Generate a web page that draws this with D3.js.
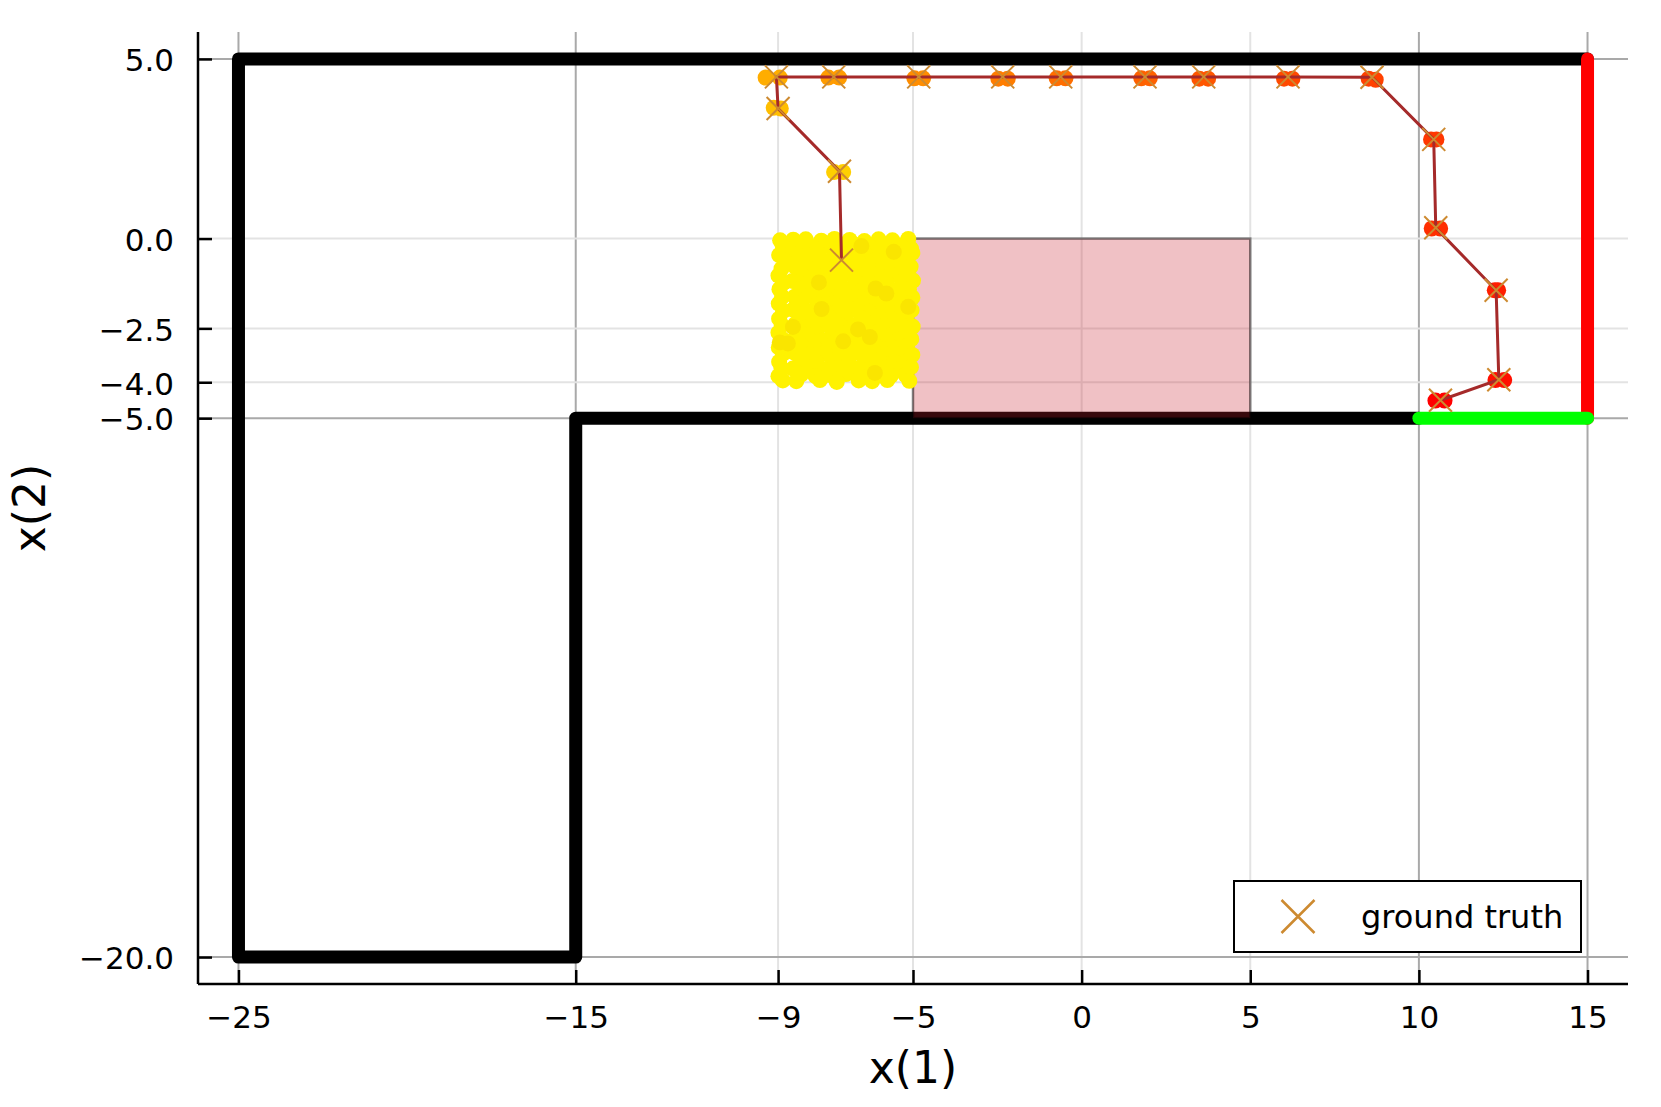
<!DOCTYPE html>
<html>
<head>
<meta charset="utf-8">
<script src="https://cdn.jsdelivr.net/npm/d3@7"></script>
<style>
  body { margin: 0; background: #fff; }
  svg { display: block; }
  text { font-family: "DejaVu Sans", sans-serif; }
</style>
</head>
<body>
<svg id="chart" width="1661" height="1107"></svg>
<script>
// ---------------- DATA ----------------
const xTicks = [-25, -15, -9, -5, 0, 5, 10, 15];
const yTicks = [5, 0, -2.5, -4, -5, -20];
const darkGridX = [-25, -15, 10, 15];
const darkGridY = [5, -5, -20];

const wallPts  = [[15, 5], [-25, 5], [-25, -20], [-15, -20], [-15, -5], [10, -5]];
const redWall  = [[15, 5], [15, -5]];
const goalWall = [[10, -5], [15, -5]];
const obstacleX = [-5, 5];
const obstacleY = [-5, 0];

// ground truth trajectory, t = 0 .. 16
const truthX = [-7.12, -7.18, -9.0, -9.05, -7.35, -4.83, -2.34, -0.62, 1.88, 3.62, 6.12, 8.61, 10.44, 10.50, 12.29, 12.37, 10.64];
const truthY = [-0.60, 1.875, 3.62, 4.50, 4.50, 4.50, 4.50, 4.50, 4.50, 4.50, 4.50, 4.49, 2.76, 0.30, -1.44, -3.93, -4.50];

// estimated particles per step [t, x, y]
const estimates = [
  [1, -7.34, 1.85], [1, -7.07, 1.85],
  [2, -9.13, 3.64], [2, -8.92, 3.62],
  [3, -9.37, 4.48], [3, -8.95, 4.48],
  [4, -7.51, 4.48], [4, -7.19, 4.48],
  [5, -4.96, 4.46], [5, -4.70, 4.46],
  [6, -2.47, 4.45], [6, -2.19, 4.45],
  [7, -0.74, 4.46], [7, -0.48, 4.46],
  [8, 1.77, 4.46], [8, 2.02, 4.46],
  [9, 3.49, 4.45], [9, 3.75, 4.45],
  [10, 6.00, 4.45], [10, 6.25, 4.45],
  [11, 8.51, 4.45], [11, 8.72, 4.42],
  [12, 10.36, 2.76], [12, 10.52, 2.76],
  [13, 10.38, 0.28], [13, 10.63, 0.28],
  [14, 12.25, -1.44], [14, 12.35, -1.44],
  [15, 12.27, -3.94], [15, 12.53, -3.94],
  [16, 10.49, -4.51], [16, 10.76, -4.51]
];

// initial particle cloud (t = 0)
const cloudPts = [
  [-8.94,-0.05],[-8.55,-0.03],[-8.18,-0.02],[-7.72,-0.06],[-7.33,-0.01],[-6.88,-0.04],[-6.44,-0.07],[-6.02,-0.02],[-5.61,-0.05],[-5.14,-0.01],
  [-8.86,-0.22],[-8.38,-0.19],[-7.96,-0.24],[-7.54,-0.20],[-7.10,-0.23],[-6.69,-0.18],[-6.24,-0.25],[-5.83,-0.21],[-5.36,-0.19],[-5.06,-0.28],
  [-8.97,-0.46],[-8.61,-0.40],[-8.14,-0.45],[-7.79,-0.41],[-7.28,-0.44],[-6.86,-0.39],[-6.41,-0.46],[-5.94,-0.42],[-5.49,-0.44],[-5.02,-0.40],
  [-8.78,-0.62],[-8.36,-0.58],[-7.91,-0.63],[-7.44,-0.60],[-6.97,-0.57],[-6.61,-0.64],[-6.11,-0.60],[-5.71,-0.62],[-5.21,-0.59],
  [-8.90,-0.84],[-8.49,-0.79],[-8.09,-0.84],[-7.66,-0.78],[-7.21,-0.82],[-6.74,-0.80],[-6.31,-0.83],[-5.86,-0.79],[-5.41,-0.82],[-5.07,-0.78],
  [-8.99,-1.03],[-8.31,-0.98],[-7.86,-1.03],[-7.41,-1.00],[-6.94,-0.97],[-6.52,-1.04],[-6.04,-0.99],[-5.62,-1.02],[-5.18,-1.00],
  [-8.84,-1.23],[-8.58,-1.18],[-8.11,-1.23],[-7.62,-1.19],[-7.16,-1.22],[-6.71,-1.17],[-6.26,-1.24],[-5.79,-1.20],[-5.31,-1.22],[-5.00,-1.17],
  [-8.96,-1.41],[-8.34,-1.38],[-7.92,-1.43],[-7.46,-1.39],[-6.91,-1.42],[-6.46,-1.40],[-6.01,-1.37],[-5.52,-1.43],[-5.12,-1.41],
  [-8.88,-1.62],[-8.51,-1.62],[-8.06,-1.58],[-7.61,-1.63],[-7.19,-1.59],[-6.72,-1.61],[-6.29,-1.64],[-5.84,-1.58],[-5.36,-1.62],[-5.02,-1.64],
  [-8.98,-1.81],[-8.29,-1.78],[-7.84,-1.83],[-7.36,-1.80],[-6.96,-1.77],[-6.49,-1.84],[-6.06,-1.79],[-5.59,-1.82],[-5.16,-1.80],
  [-8.85,-2.02],[-8.56,-1.98],[-8.12,-2.03],[-7.64,-1.99],[-7.21,-2.02],[-6.76,-1.97],[-6.31,-2.04],[-5.81,-2.00],[-5.39,-2.02],[-5.04,-1.99],
  [-8.97,-2.23],[-8.31,-2.18],[-7.89,-2.23],[-7.46,-2.20],[-7.01,-2.17],[-6.54,-2.22],[-6.09,-2.19],[-5.66,-2.23],[-5.20,-2.20],
  [-8.89,-2.41],[-8.49,-2.38],[-8.04,-2.42],[-7.59,-2.39],[-7.14,-2.43],[-6.69,-2.40],[-6.26,-2.37],[-5.86,-2.42],[-5.34,-2.40],[-5.01,-2.45],
  [-8.99,-2.62],[-8.36,-2.58],[-7.86,-2.63],[-7.39,-2.60],[-6.89,-2.57],[-6.46,-2.62],[-6.01,-2.59],[-5.54,-2.63],[-5.14,-2.60],
  [-8.87,-2.80],[-8.54,-2.82],[-8.11,-2.78],[-7.64,-2.83],[-7.19,-2.79],[-6.76,-2.81],[-6.29,-2.84],[-5.81,-2.78],[-5.41,-2.82],[-5.05,-2.80],
  [-8.98,-3.03],[-8.29,-2.98],[-7.91,-3.03],[-7.44,-3.00],[-7.01,-2.97],[-6.56,-3.04],[-6.09,-2.99],[-5.64,-3.02],[-5.18,-3.00],
  [-8.86,-3.21],[-8.51,-3.18],[-8.04,-3.23],[-7.61,-3.19],[-7.14,-3.22],[-6.71,-3.17],[-6.24,-3.24],[-5.86,-3.20],[-5.34,-3.22],[-5.02,-3.24],
  [-8.97,-3.43],[-8.34,-3.38],[-7.86,-3.43],[-7.39,-3.39],[-6.91,-3.42],[-6.44,-3.40],[-6.01,-3.37],[-5.56,-3.43],[-5.14,-3.41],
  [-8.90,-3.62],[-8.56,-3.62],[-8.09,-3.58],[-7.66,-3.63],[-7.21,-3.59],[-6.74,-3.61],[-6.31,-3.64],[-5.79,-3.58],[-5.39,-3.62],[-5.06,-3.58],
  [-8.99,-3.83],[-8.31,-3.78],[-7.89,-3.83],[-7.46,-3.80],[-6.99,-3.77],[-6.56,-3.84],[-6.11,-3.79],[-5.66,-3.82],[-5.22,-3.80],
  [-8.86,-3.95],[-8.46,-3.97],[-7.76,-3.94],[-7.26,-3.99],[-6.61,-3.95],[-6.21,-3.97],[-5.76,-3.94],[-5.11,-3.96]
];
// slightly darker particles in the cloud
const cloudDarkPts = [
  [-6.53,-0.21],[-5.57,-0.37],[-7.79,-1.22],[-6.11,-1.39],[-5.79,-1.53],[-7.71,-1.96],[-5.14,-1.90],
  [-8.56,-2.46],[-6.63,-2.53],[-6.28,-2.74],[-7.07,-2.86],[-8.95,-2.89],[-8.71,-2.92],[-6.13,-3.74]
];

const legendLabel = "ground truth";

// ---------------- SCALES ----------------
const x = d3.scaleLinear().domain([-26.2, 16.2]).range([198, 1628]);
const y = d3.scaleLinear().domain([-20.75, 5.75]).range([984, 32]);
const stepColor = d3.scaleLinear()
  .domain([1, 4, 7, 10, 13, 16])
  .range(["#FFCF00", "#FF9C00", "#FF6E00", "#FF4A00", "#FF2E00", "#FF0000"]);

const svg = d3.select("#chart");
const [X0, X1] = x.range();
const [Y0, Y1] = y.range(); // Y0 bottom, Y1 top

// ---------------- GRID ----------------
const grid = svg.append("g");
grid.selectAll("line.gx").data(xTicks).join("line")
  .attr("x1", d => x(d)).attr("x2", d => x(d))
  .attr("y1", Y1).attr("y2", Y0)
  .attr("stroke", d => darkGridX.includes(d) ? "#a9a9a9" : "#e3e3e3")
  .attr("stroke-width", 2);
grid.selectAll("line.gy").data(yTicks).join("line")
  .attr("y1", d => y(d)).attr("y2", d => y(d))
  .attr("x1", X0).attr("x2", X1)
  .attr("stroke", d => darkGridY.includes(d) ? "#a9a9a9" : "#e3e3e3")
  .attr("stroke-width", 2);

// ---------------- WALLS ----------------
const line = d3.line().x(d => x(d[0])).y(d => y(d[1]));
svg.append("path").attr("d", line(wallPts))
  .attr("fill", "none").attr("stroke", "#000").attr("stroke-width", 13)
  .attr("stroke-linejoin", "round").attr("stroke-linecap", "round");

// obstacle
svg.append("rect")
  .attr("x", x(obstacleX[0])).attr("y", y(obstacleY[1]))
  .attr("width", x(obstacleX[1]) - x(obstacleX[0]))
  .attr("height", y(obstacleY[0]) - y(obstacleY[1]))
  .attr("fill", "rgb(200,34,48)").attr("fill-opacity", 0.28)
  .attr("stroke", "#000").attr("stroke-opacity", 0.45).attr("stroke-width", 2.5);

svg.append("path").attr("d", line(redWall))
  .attr("fill", "none").attr("stroke", "#ff0000").attr("stroke-width", 13)
  .attr("stroke-linecap", "round");
svg.append("path").attr("d", line(goalWall))
  .attr("fill", "none").attr("stroke", "#00ff00").attr("stroke-width", 13)
  .attr("stroke-linecap", "round");

// ---------------- PARTICLES ----------------
const R = 8;
svg.append("g").selectAll("circle").data(cloudPts).join("circle")
  .attr("cx", d => x(d[0])).attr("cy", d => y(d[1])).attr("r", R)
  .attr("fill", "#FFF200");
svg.append("g").selectAll("circle").data(cloudDarkPts).join("circle")
  .attr("cx", d => x(d[0])).attr("cy", d => y(d[1])).attr("r", R)
  .attr("fill", "#FAE500");
svg.append("g").selectAll("circle").data(estimates).join("circle")
  .attr("cx", d => x(d[1])).attr("cy", d => y(d[2])).attr("r", R)
  .attr("fill", d => stepColor(d[0]));

// ---------------- TRAJECTORY ----------------
const truth = truthX.map((v, i) => [v, truthY[i]]);
svg.append("path").attr("d", line(truth))
  .attr("fill", "none").attr("stroke", "#A52A2A").attr("stroke-width", 3)
  .attr("stroke-linejoin", "miter");

const xMark = (cx, cy, s) => `M${cx - s},${cy - s}L${cx + s},${cy + s}M${cx - s},${cy + s}L${cx + s},${cy - s}`;
svg.append("g").selectAll("path").data(truth).join("path")
  .attr("d", d => xMark(x(d[0]), y(d[1]), 11.5))
  .attr("stroke", "#CD8A30").attr("stroke-width", 2).attr("fill", "none");

// ---------------- AXES ----------------
const fmtX = d3.format("d");
const fmtY = d3.format(".1f");
const gx = svg.append("g").attr("transform", `translate(0,${Y0})`)
  .call(d3.axisBottom(x).tickValues(xTicks).tickSize(-14).tickSizeOuter(0).tickFormat(fmtX));
const gy = svg.append("g").attr("transform", `translate(${X0},0)`)
  .call(d3.axisLeft(y).tickValues(yTicks).tickSize(-14).tickSizeOuter(0).tickFormat(fmtY));
[gx, gy].forEach(g => {
  g.attr("font-family", "DejaVu Sans, sans-serif").attr("font-size", 31);
  g.select(".domain").attr("stroke", "#000").attr("stroke-width", 2.5);
  g.selectAll(".tick line").attr("stroke", "#000").attr("stroke-width", 2.5);
  g.selectAll(".tick text").attr("fill", "#000");
});
gx.select(".domain").attr("d", `M${X0},0H${X1}`);
gy.select(".domain").attr("d", `M0,${Y0}V${Y1}`);
gx.selectAll(".tick text").attr("y", 44).attr("dy", null);
gy.selectAll(".tick text").attr("x", -24).attr("dy", "0.38em");

// axis titles
svg.append("text").attr("x", (X0 + X1) / 2).attr("y", 1083)
  .attr("text-anchor", "middle").attr("font-size", 44).text("x(1)");
svg.append("text").attr("transform", `translate(45,${(Y0 + Y1) / 2}) rotate(-90)`)
  .attr("text-anchor", "middle").attr("font-size", 44).text("x(2)");

// ---------------- LEGEND ----------------
const lg = svg.append("g");
lg.append("rect").attr("x", 1234).attr("y", 881).attr("width", 347).attr("height", 71)
  .attr("fill", "#fff").attr("stroke", "#000").attr("stroke-width", 2);
lg.append("path").attr("d", xMark(1298, 916.5, 16.5))
  .attr("stroke", "#CD8A30").attr("stroke-width", 2.5).attr("fill", "none");
lg.append("text").attr("x", 1361).attr("y", 928).attr("font-size", 32).text(legendLabel);
</script>
</body>
</html>
